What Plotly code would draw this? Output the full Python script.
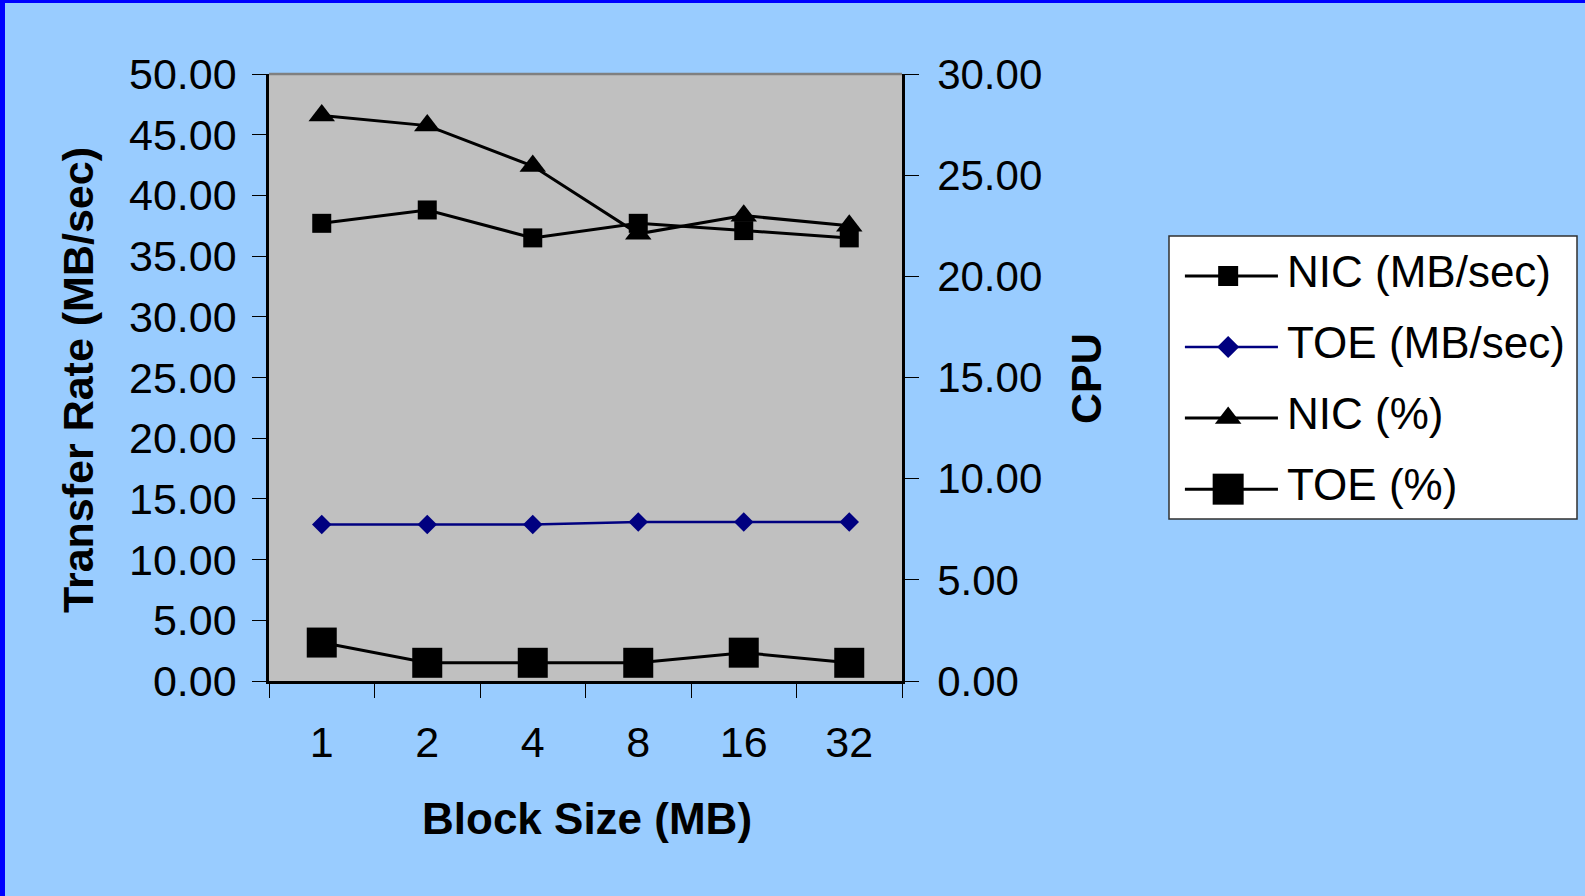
import plotly.graph_objects as go

block_sizes = ["1", "2", "4", "8", "16", "32"]
nic_mbps = [37.7, 38.8, 36.5, 37.7, 37.1, 36.5]
toe_mbps = [12.9, 12.9, 12.9, 13.1, 13.1, 13.1]
nic_cpu = [27.95, 27.45, 25.45, 22.1, 23.0, 22.5]
toe_cpu = [1.9, 0.9, 0.9, 0.9, 1.4, 0.9]

series_names = ["NIC (MB/sec)", "TOE (MB/sec)", "NIC (%)", "TOE (%)"]
series_colors = ["black", "#000080", "black", "black"]
series_symbols = ["square", "diamond", "triangle-up", "square"]
series_sizes = [19, 15, 23, 30]
series_widths = [3, 2.5, 3, 3]

FONT = "Arial, Liberation Sans, sans-serif"
W, H = 1585, 896
L, R, T, B = 269, 902, 74, 681          # plot area in pixels
MR = 0
pw, ph = W - L - MR, B - T


def px(xp):
    return (xp - L) / pw


def py(yp):
    return (B - yp) / ph


fig = go.Figure()
data = [(nic_mbps, "y"), (toe_mbps, "y"), (nic_cpu, "y2"), (toe_cpu, "y2")]
for i, (vals, ax) in enumerate(data):
    fig.add_trace(go.Scatter(
        x=block_sizes, y=vals, name=series_names[i], mode="lines+markers",
        line=dict(color=series_colors[i], width=series_widths[i]),
        marker=dict(symbol=series_symbols[i], size=series_sizes[i], color=series_colors[i], opacity=1),
        yaxis=ax, showlegend=False))

tickfont = dict(family=FONT, size=43, color="black")
xdom = [0, px(R)]

fig.update_layout(
    width=W, height=H,
    paper_bgcolor="#99CCFF", plot_bgcolor="#C0C0C0",
    margin=dict(l=L, r=MR, t=T, b=H - B, pad=0),
    font=dict(family=FONT, color="black"),
    showlegend=False,
    xaxis=dict(domain=xdom, type="category", categoryarray=block_sizes, range=[-0.5, 5.5],
               tickson="boundaries", ticks="outside", ticklen=14, tickwidth=1.2, tickcolor="black",
               showline=True, linecolor="black", linewidth=2.5, showgrid=False, zeroline=False,
               tickfont=tickfont, ticklabelstandoff=22),
    xaxis2=dict(domain=xdom, overlaying="x", anchor="y", range=[-0.5, 5.5], side="bottom",
                tickvals=[-0.5, 0.5, 1.5, 2.5, 3.5, 4.5], ticks="inside", ticklen=13, tickwidth=1.2,
                tickcolor="black", showticklabels=False, showgrid=False, zeroline=False, showline=False),
    yaxis=dict(range=[0, 50], dtick=5, tickformat=".2f", ticks="outside", ticklen=14, tickwidth=1.2,
               tickcolor="black", showline=True, linecolor="black", linewidth=2.5,
               showgrid=False, zeroline=False, tickfont=tickfont, ticklabelstandoff=7),
    yaxis2=dict(range=[0, 30], dtick=5, tickformat=".2f", overlaying="y", side="right", anchor="x",
                ticks="outside", ticklen=14, tickwidth=1.2, tickcolor="black",
                showline=True, linecolor="black", linewidth=2.5,
                showgrid=False, zeroline=False, tickfont=dict(family=FONT, size=42, color="black"),
                ticklabelstandoff=10),
    yaxis3=dict(range=[0, 50], dtick=5, overlaying="y", side="left", anchor="x", ticks="inside",
                ticklen=13, tickwidth=1.2, tickcolor="black", showticklabels=False,
                showgrid=False, zeroline=False, showline=False),
    yaxis4=dict(range=[0, 30], dtick=5, overlaying="y", side="right", anchor="x", ticks="inside",
                ticklen=13, tickwidth=1.2, tickcolor="black", showticklabels=False,
                showgrid=False, zeroline=False, showline=False),
    # auxiliary axes holding the legend samples
    xaxis3=dict(domain=[px(1169), px(1577)], range=[0, 1], anchor="y5", visible=False, fixedrange=True),
    yaxis5=dict(domain=[py(519), py(236)], range=[3.42, -0.563], anchor="x3", visible=False, fixedrange=True),
)

# legend box
fig.add_shape(type="rect", xref="paper", yref="paper", x0=px(1169), x1=px(1577), y0=py(519), y1=py(236),
              fillcolor="white", line=dict(color="#303030", width=1.5), layer="below")
leg_marker_sizes = [20, 17, 23, 31]
for k, name in enumerate(series_names):
    fig.add_trace(go.Scatter(
        x=[0.039, 0.267], y=[k, k], xaxis="x3", yaxis="y5", mode="lines",
        line=dict(color=series_colors[k], width=3 if k != 1 else 2.5),
        showlegend=False, hoverinfo="skip"))
    fig.add_trace(go.Scatter(
        x=[0.145], y=[k], xaxis="x3", yaxis="y5", mode="markers",
        marker=dict(symbol=series_symbols[k], size=leg_marker_sizes[k], color=series_colors[k],
                    opacity=1, line=dict(width=0)),
        showlegend=False, hoverinfo="skip"))
    fig.add_annotation(text=name, xref="x3", yref="y5", x=0.285, y=k, xanchor="left", yanchor="middle",
                       yshift=5, showarrow=False, font=dict(family=FONT, size=44, color="black"))

# axis titles
fig.add_annotation(text="<b>Transfer Rate (MB/sec)</b>", xref="paper", yref="paper",
                   x=px(78), y=py(380), xanchor="center", yanchor="middle", textangle=-90,
                   showarrow=False, font=dict(family=FONT, size=43, color="black"))
fig.add_annotation(text="<b>Block Size (MB)</b>", xref="paper", yref="paper",
                   x=px(587), y=py(818), xanchor="center", yanchor="middle", showarrow=False,
                   font=dict(family=FONT, size=44, color="black"))
fig.add_annotation(text="<b>CPU</b>", xref="paper", yref="paper",
                   x=px(1085.5), y=py(378.5), xanchor="center", yanchor="middle", textangle=-90,
                   showarrow=False, font=dict(family=FONT, size=43, color="black"))

# plot-area top edge and page border
fig.add_shape(type="line", xref="paper", yref="paper", x0=0, x1=px(R), y0=1, y1=1,
              line=dict(color="#808080", width=2.5))
fig.add_shape(type="rect", xref="paper", yref="paper",
              x0=px(0), x1=px(5), y0=py(H), y1=py(0),
              fillcolor="#0000FF", line=dict(width=0), layer="above")
fig.add_shape(type="rect", xref="paper", yref="paper",
              x0=px(0), x1=px(W), y0=py(3), y1=py(0),
              fillcolor="#0000FF", line=dict(width=0), layer="above")

fig.write_html("out.html", config={"displayModeBar": False},
               post_script="document.body.style.margin='0';document.body.style.overflow='hidden';")
